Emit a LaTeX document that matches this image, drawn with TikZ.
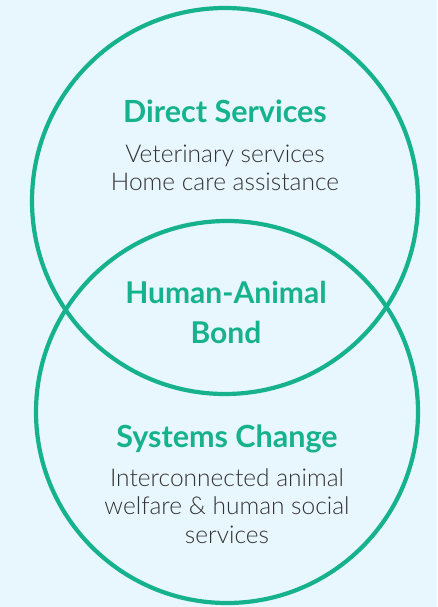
\documentclass[tikz,border=0pt]{standalone}
\usepackage{fontspec}
\setmainfont{Lato}
\newfontfamily\lightfont{Lato Light}
\definecolor{bondgreen}{HTML}{16B28E}
\definecolor{paleblue}{HTML}{E8F6FE}
\definecolor{darktext}{HTML}{333333}
\tikzstyle{every node}=[align=center, inner sep=0pt]
\tikzstyle{title}=[bondgreen, font=\fontsize{30.5}{36}\selectfont\bfseries]
\tikzstyle{bond}=[bondgreen, font=\fontsize{30}{40}\selectfont\bfseries]
\tikzstyle{detail}=[darktext, font=\lightfont\fontsize{24.5}{28.5}\selectfont]

\begin{document}
\begin{tikzpicture}[x=1pt, y=-1pt, line width=4.2pt, bondgreen]
% Background
  \fill[paleblue] (0,0) rectangle (437,607);
  \useasboundingbox (0,0) rectangle (437,607);
% Circles
  \draw (225,201) circle[radius=193pt];
  \draw (227,412) circle[radius=191pt];
% Top circle
  \node[title, anchor=base] (direct) at (225,122) {Direct Services};
  \node[detail] (directtext) at (225,168) {Veterinary services\\Home care assistance};
% Overlap
  \node[bond] (bond) at (226,312) {Human-Animal\\Bond};
% Bottom circle
  \node[title, anchor=base] (systems) at (227,447) {Systems Change};
  \node[detail] (systemstext) at (227,506) {Interconnected animal\\welfare \& human social\\services};
\end{tikzpicture}
\end{document}
